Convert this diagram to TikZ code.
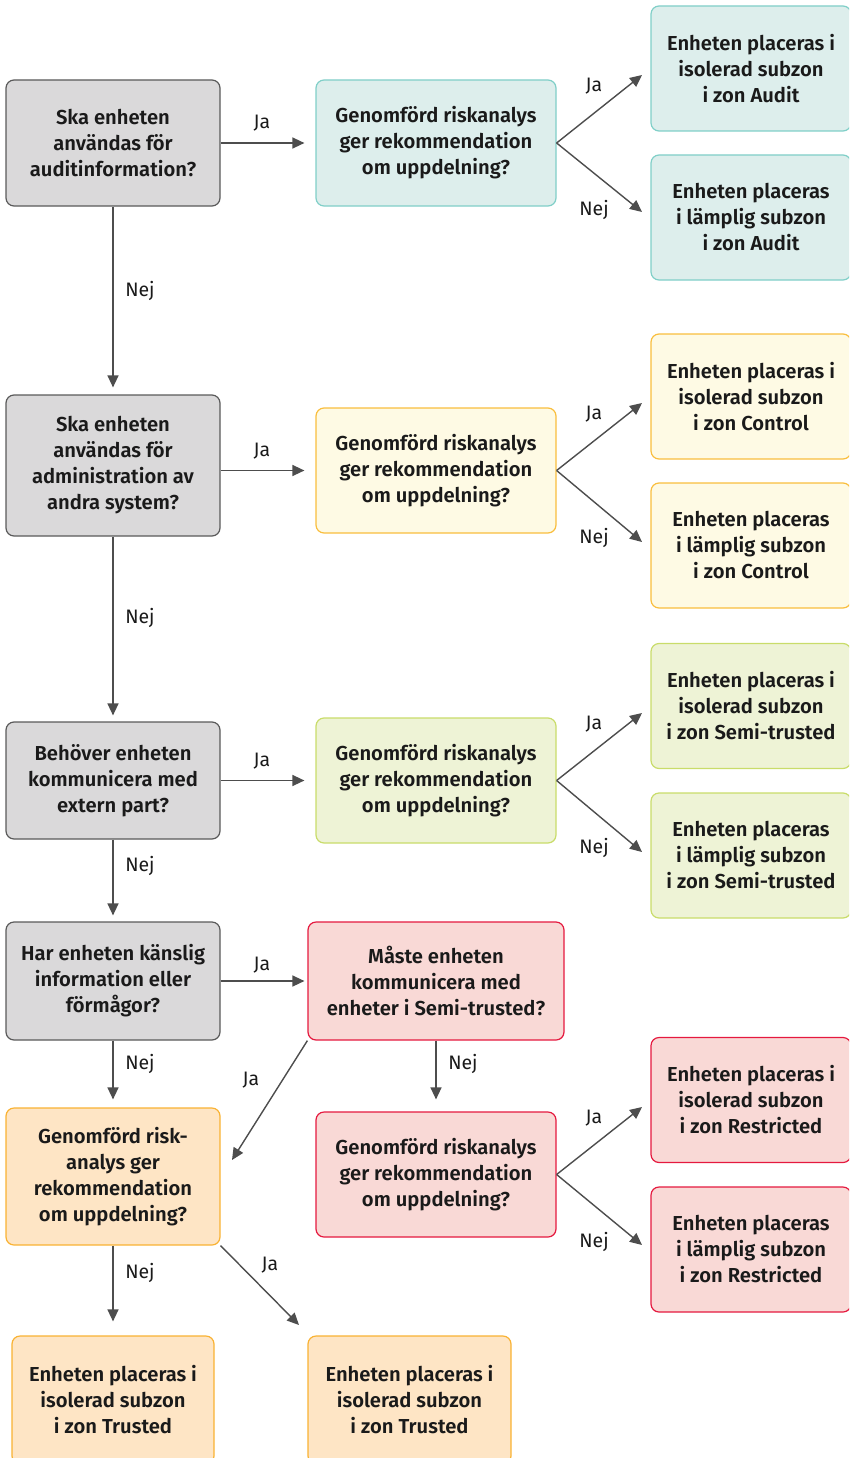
\documentclass[tikz,border=0pt]{standalone}
\usepackage{fontspec}
\setmainfont{Fira Sans}
\newfontfamily\boxfont{Fira Sans SemiBold}
\usetikzlibrary{arrows.meta}
\definecolor{grayfill}{HTML}{DAD9DA}
\definecolor{grayline}{HTML}{5A5A5A}
\definecolor{tealfill}{HTML}{DDEEEC}
\definecolor{tealline}{HTML}{80CFC8}
\definecolor{yelfill}{HTML}{FEFAE4}
\definecolor{yelline}{HTML}{F9BE3E}
\definecolor{grnfill}{HTML}{EEF3D6}
\definecolor{grnline}{HTML}{C9DC6A}
\definecolor{redfill}{HTML}{F9D9D6}
\definecolor{redline}{HTML}{E5193F}
\definecolor{orafill}{HTML}{FEE5C5}
\definecolor{oraline}{HTML}{F9B233}
\definecolor{arrowc}{HTML}{4D4D4D}
\definecolor{txt}{HTML}{1A1A1A}
\tikzset{
  box/.style={rounded corners=8pt, draw, line width=1.2pt, align=center,
    inner sep=0pt, text=txt, font=\boxfont\fontsize{20.2}{26}\selectfont},
  graybox/.style={box, fill=grayfill, draw=grayline, minimum width=214pt},
  tealbox/.style={box, fill=tealfill, draw=tealline},
  yelbox/.style={box, fill=yelfill, draw=yelline},
  grnbox/.style={box, fill=grnfill, draw=grnline},
  redbox/.style={box, fill=redfill, draw=redline},
  orabox/.style={box, fill=orafill, draw=oraline},
  midbox/.style={minimum width=240pt, minimum height=125pt},
  endbox/.style={minimum width=200pt, minimum height=125pt},
  arr/.style={draw=arrowc, line width=1.4pt, -{Triangle[length=12pt,width=11pt]}},
  lbl/.style={inner sep=0pt, text=txt, font=\fontsize{19.5}{22}\selectfont}
}
\begin{document}
\begin{tikzpicture}[x=1pt,y=-1pt]
\useasboundingbox (0,0) rectangle (849,1458);
\clip (0,0) rectangle (849,1458);

% questions in the left column
\node[graybox, minimum height=126pt] (g1) at (113,143) {Ska enheten\\användas för\\auditinformation?};
\node[graybox, minimum height=141pt] (g2) at (113,465.5) {Ska enheten\\användas för\\administration av\\andra system?};
\node[graybox, minimum height=117pt] (g3) at (113,780.5) {Behöver enheten\\kommunicera med\\extern part?};
\node[graybox, minimum height=118pt] (g4) at (113,981) {Har enheten känslig\\information eller\\förmågor?};
\node[orabox, minimum width=214pt, minimum height=137pt] (o) at (113,1176.5) {Genomförd risk-\\analys ger\\rekommendation\\om uppdelning?};

% risk analysis questions
\node[tealbox, midbox, minimum height=126pt] (t1) at (436,143) {Genomförd riskanalys\\ger rekommendation\\om uppdelning?};
\node[yelbox, midbox] (y1) at (436,470.5) {Genomförd riskanalys\\ger rekommendation\\om uppdelning?};
\node[grnbox, midbox] (s1) at (436,780.5) {Genomförd riskanalys\\ger rekommendation\\om uppdelning?};
\node[redbox, minimum width=256pt, minimum height=118pt] (r1) at (436,981) {Måste enheten\\kommunicera med\\enheter i Semi-trusted?};
\node[redbox, midbox] (r2) at (436,1174.5) {Genomförd riskanalys\\ger rekommendation\\om uppdelning?};

% placements
\node[tealbox, endbox] (a1) at (751,68.5) {Enheten placeras i\\isolerad subzon\\i zon Audit};
\node[tealbox, endbox] (a2) at (751,217.5) {Enheten placeras\\i lämplig subzon\\i zon Audit};
\node[yelbox, endbox] (c1) at (751,396.5) {Enheten placeras i\\isolerad subzon\\i zon Control};
\node[yelbox, endbox] (c2) at (751,545.5) {Enheten placeras\\i lämplig subzon\\i zon Control};
\node[grnbox, endbox] (m1) at (751,706) {Enheten placeras i\\isolerad subzon\\i zon Semi-trusted};
\node[grnbox, endbox] (m2) at (751,855.5) {Enheten placeras\\i lämplig subzon\\i zon Semi-trusted};
\node[redbox, endbox] (x1) at (751,1100) {Enheten placeras i\\isolerad subzon\\i zon Restricted};
\node[redbox, endbox] (x2) at (751,1249.5) {Enheten placeras\\i lämplig subzon\\i zon Restricted};
\node[orabox, minimum width=202pt, minimum height=128pt] (u1) at (113,1400) {Enheten placeras i\\isolerad subzon\\i zon Trusted};
\node[orabox, minimum width=203pt, minimum height=128pt] (u2) at (409.5,1400) {Enheten placeras i\\isolerad subzon\\i zon Trusted};

% free ends of the slanted arrows
\coordinate (a1t) at (642,75);
\coordinate (a2t) at (642,212);
\coordinate (c1t) at (642,403);
\coordinate (c2t) at (642,542);
\coordinate (m1t) at (642,713);
\coordinate (m2t) at (642,852);
\coordinate (x1t) at (642,1107);
\coordinate (x2t) at (642,1245);
\coordinate (ot) at (232,1160);
\coordinate (u2t) at (299,1325);

% main column
\draw[arr, shorten >=7pt] (g1.south) -- (g2.north);
\draw[arr, shorten >=6pt] (g2.south) -- (g3.north);
\draw[arr, shorten >=6pt] (g3.south) -- (g4.north);
\draw[arr, shorten >=8pt] (g4.south) -- (o.north);
\draw[arr, shorten >=14pt] (o.south) -- (u1.north);
\draw[arr] (o.south east) -- (u2t);

% yes branches
\draw[arr, shorten >=11pt] (g1.east) -- (t1.west);
\draw[arr, shorten >=11pt] (g2.east |- y1.west) -- (y1.west);
\draw[arr, shorten >=11pt] (g3.east) -- (s1.west);
\draw[arr, shorten >=3pt] (g4.east) -- (r1.west);
\draw[arr] (r1.south west) -- (ot);
\draw[arr, shorten >=12pt] (r1.south) -- (r2.north);

% analysis outcomes
\draw[arr] (t1.east) -- (a1t);
\draw[arr] (t1.east) -- (a2t);
\draw[arr] (y1.east) -- (c1t);
\draw[arr] (y1.east) -- (c2t);
\draw[arr] (s1.east) -- (m1t);
\draw[arr] (s1.east) -- (m2t);
\draw[arr] (r2.east) -- (x1t);
\draw[arr] (r2.east) -- (x2t);

% connector labels
\node[lbl] (l1) at (262,123) {Ja};
\node[lbl] (l2) at (140,291) {Nej};
\node[lbl] (l3) at (594,86) {Ja};
\node[lbl] (l4) at (594,210) {Nej};
\node[lbl] (l5) at (262,451) {Ja};
\node[lbl] (l6) at (140,618) {Nej};
\node[lbl] (l7) at (594,414) {Ja};
\node[lbl] (l8) at (594,538) {Nej};
\node[lbl] (l9) at (262,761) {Ja};
\node[lbl] (l10) at (140,866) {Nej};
\node[lbl] (l11) at (594,724) {Ja};
\node[lbl] (l12) at (594,848) {Nej};
\node[lbl] (l13) at (262,965) {Ja};
\node[lbl] (l14) at (140,1064) {Nej};
\node[lbl] (l15) at (463,1064) {Nej};
\node[lbl] (l16) at (251,1080) {Ja};
\node[lbl] (l17) at (594,1118) {Ja};
\node[lbl] (l18) at (594,1242) {Nej};
\node[lbl] (l19) at (140,1273) {Nej};
\node[lbl] (l20) at (270,1265) {Ja};
\end{tikzpicture}
\end{document}
